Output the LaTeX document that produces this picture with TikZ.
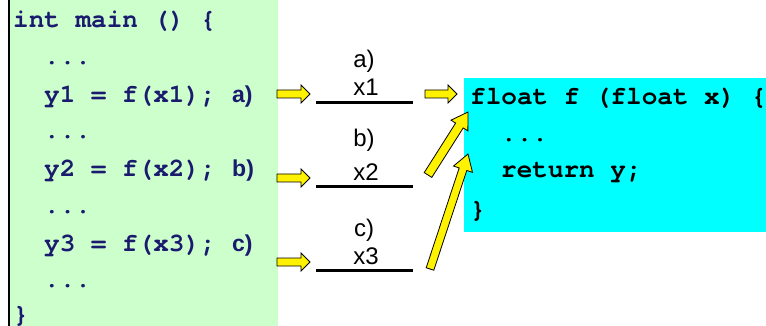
\documentclass[tikz,border=0pt]{standalone}
\usepackage{fontspec}
\setmonofont{texgyrecursor}[Extension=.otf, UprightFont=*-regular, BoldFont=*-bold, Ligatures={NoCommon}]
\newfontfamily\labfont{Liberation Sans}
\usetikzlibrary{calc}
\definecolor{codeblue}{RGB}{26,26,110}
\definecolor{mygreen}{RGB}{204,255,204}
\definecolor{mycyan}{RGB}{0,255,255}
\newcommand\blockarrow[5]{%
  \path let \p1=($(#2)-(#1)$) in \pgfextra{%
    \pgfmathsetmacro\baang{atan2(\y1,\x1)}%
    \pgfmathsetmacro\balen{veclen(\x1,\y1)}%
    \global\let\baang\baang\global\let\balen\balen};
  \filldraw[yarrow, shift={(#1)}, rotate=\baang]
    (0,-#3) -- (\balen-#5,-#3) -- (\balen-#5,-#4) -- (\balen,0)
    -- (\balen-#5,#4) -- (\balen-#5,#3) -- (0,#3) -- cycle;}
\begin{document}
\begin{tikzpicture}[x=1pt,y=-1pt,
  codeL/.style={anchor=base west, inner sep=0pt, text=codeblue,
    font=\ttfamily\bfseries\fontsize{26}{26}\selectfont},
  codeR/.style={codeL, text=black},
  tagL/.style={anchor=base west, inner sep=0pt, text=codeblue,
    font=\labfont\bfseries\fontsize{23}{23}\selectfont},
  tagR/.style={anchor=base, inner sep=0pt, text=black,
    font=\labfont\fontsize{24}{24}\selectfont},
  yarrow/.style={fill=yellow, draw=black, line width=0.8pt, line join=miter},
  slot/.style={line width=3pt}]
\useasboundingbox (0,0) rectangle (766,326);
% boxes
\fill[mygreen] (10,0) rectangle (278,326);
\draw[line width=2.5pt] (8.75,0) -- (8.75,326);
\fill[mycyan] (464,78) rectangle (766,232);
% main code
\node[codeL] (l0) at (13,28) {int main () \{};
\node[codeL] (l1) at (44,65) {...};
\node[codeL] (l2) at (44,103) {y1 = f(x1);};
\node[tagL] (ta) at (232,103) {a)};
\node[codeL] (l3) at (44,139) {...};
\node[codeL] (l4) at (44,177) {y2 = f(x2);};
\node[tagL] (tb) at (232,177) {b)};
\node[codeL] (l5) at (44,213) {...};
\node[codeL] (l6) at (44,251) {y3 = f(x3);};
\node[tagL] (tc) at (232,251) {c)};
\node[codeL] (l7) at (44,287) {...};
\node[codeL] (l8) at (13,322) {\}};
% function code
\node[codeR] (f0) at (470,105) {float f (float x) \{};
\node[codeR] (f1) at (501,142) {...};
\node[codeR] (f2) at (501,178) {return y;};
\node[codeR] (f3) at (470,217) {\}};
% parameter slots
\node[tagR] (la) at (364,68) {a)};
\node[tagR] (xa) at (366,96) {x1};
\node[tagR] (lb) at (364,147) {b)};
\node[tagR] (xb) at (366,181) {x2};
\node[tagR] (lc) at (364,236) {c)};
\node[tagR] (xc) at (366,264) {x3};
\coordinate (sa1) at (316,103); \coordinate (sa2) at (413,103);
\coordinate (sb1) at (316,187); \coordinate (sb2) at (413,187);
\coordinate (sc1) at (316,270); \coordinate (sc2) at (413,270);
\draw[slot] (sa1) -- (sa2);
\draw[slot] (sb1) -- (sb2);
\draw[slot] (sc1) -- (sc2);
% arrows
\coordinate (pa1) at (277,94); \coordinate (pa2) at (310,94);
\coordinate (pb1) at (277,178); \coordinate (pb2) at (310,178);
\coordinate (pc1) at (277,262); \coordinate (pc2) at (310,262);
\coordinate (qa1) at (425,94); \coordinate (qa2) at (457,94);
\coordinate (qb1) at (428,175); \coordinate (qb2) at (468,112);
\coordinate (qc1) at (430,269); \coordinate (qc2) at (468,154);
\blockarrow{pa1}{pa2}{4}{9}{9}
\blockarrow{pb1}{pb2}{4}{9}{9}
\blockarrow{pc1}{pc2}{4}{9}{9}
\blockarrow{qa1}{qa2}{4}{9}{9}
\blockarrow{qb1}{qb2}{4.5}{10}{16}
\blockarrow{qc1}{qc2}{4}{10}{16}
\end{tikzpicture}
\end{document}
